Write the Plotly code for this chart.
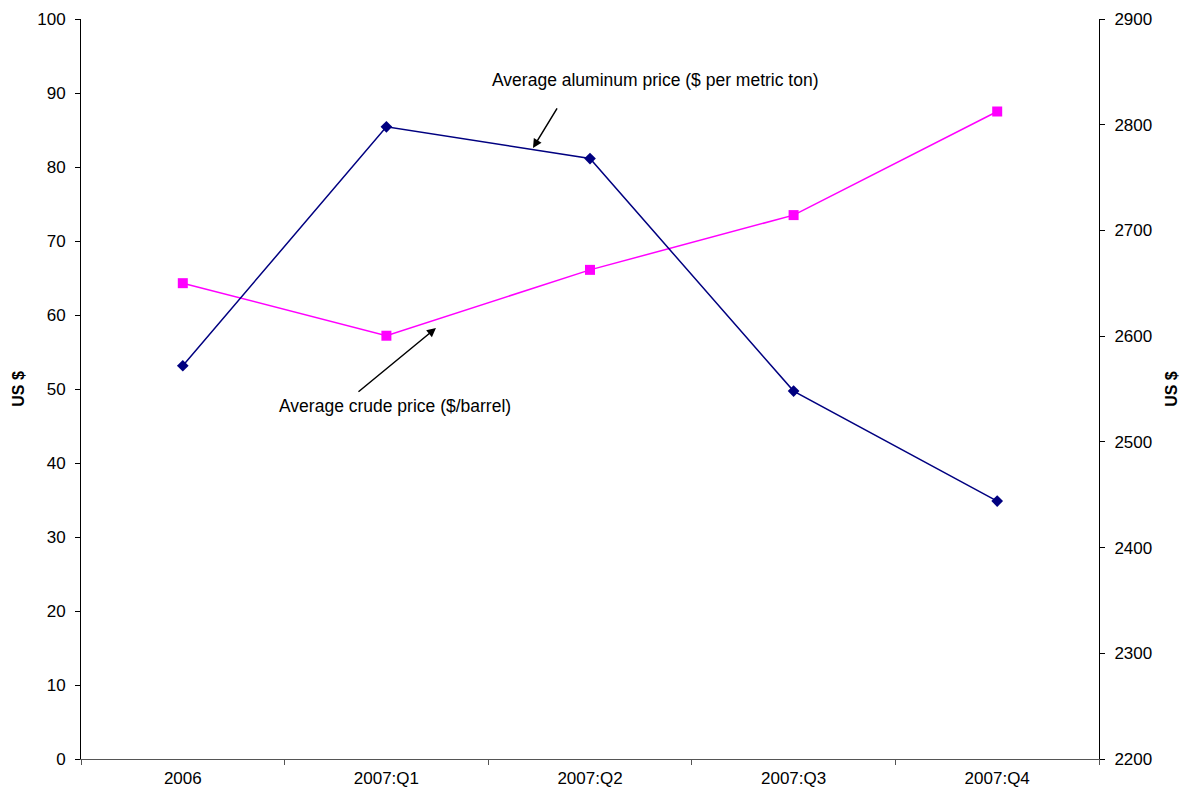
import plotly.graph_objects as go

# Quarterly commodity prices
periods = ["2006", "2007:Q1", "2007:Q2", "2007:Q3", "2007:Q4"]
crude_price = [64.3, 57.2, 66.1, 73.5, 87.5]          # $/barrel, left axis
aluminum_price = [2572, 2798, 2768, 2548, 2444]       # $ per metric ton, right axis

left_ticks = list(range(0, 101, 10))
right_ticks = list(range(2200, 2901, 100))

FONT = "Liberation Sans, Arial, sans-serif"
AXIS_COLOR = "#000000"

fig = go.Figure()

fig.add_trace(go.Scatter(
    x=periods, y=crude_price, mode="lines+markers",
    line=dict(color="#FF00FF", width=1.5),
    marker=dict(symbol="square", size=10, color="#FF00FF"),
    yaxis="y", showlegend=False,
))
fig.add_trace(go.Scatter(
    x=periods, y=aluminum_price, mode="lines+markers",
    line=dict(color="#000080", width=1.5),
    marker=dict(symbol="diamond", size=9, color="#000080"),
    yaxis="y2", showlegend=False,
))

tick_font = dict(family=FONT, size=17, color="#000000")
title_font = dict(family=FONT, size=16, color="#000000", weight="bold")

fig.update_layout(
    width=1191, height=793,
    margin=dict(l=81, r=92, t=19, b=34),
    paper_bgcolor="white", plot_bgcolor="white",
    xaxis=dict(
        type="category", categoryarray=periods, range=[-0.5, 4.5],
        showline=True, linecolor="#555555", linewidth=1,
        ticks="outside", ticklen=5, tickcolor="#555555", tickson="boundaries",
        showgrid=False, zeroline=False, tickfont=tick_font,
        ticklabelstandoff=4, automargin=False,
    ),
    # inside half of the crossing tick marks on the category axis
    xaxis2=dict(
        overlaying="x", anchor="y", side="bottom", range=[-0.5, 4.5],
        tickvals=[-0.5, 0.5, 1.5, 2.5, 3.5, 4.5],
        ticks="inside", ticklen=5, tickcolor="#555555",
        showticklabels=False, showline=False, showgrid=False, zeroline=False,
        automargin=False,
    ),
    yaxis=dict(
        range=[0, 100], tickvals=left_ticks,
        showline=True, linecolor=AXIS_COLOR, linewidth=1,
        ticks="outside", ticklen=5, tickcolor=AXIS_COLOR,
        showgrid=False, zeroline=False, tickfont=tick_font,
        ticklabelstandoff=6, automargin=False,
        title=dict(text="US $", font=title_font, standoff=8),
    ),
    yaxis2=dict(
        overlaying="y", side="right", anchor="x",
        range=[2200, 2900], tickvals=right_ticks,
        showline=True, linecolor=AXIS_COLOR, linewidth=1,
        ticks="outside", ticklen=5, tickcolor=AXIS_COLOR,
        showgrid=False, zeroline=False, tickfont=tick_font,
        ticklabelstandoff=6, automargin=False,
        title=dict(text="US $", font=title_font, standoff=14),
    ),
    # inside halves of the crossing tick marks on both value axes
    yaxis3=dict(
        overlaying="y", side="left", anchor="x", range=[0, 100],
        tickvals=left_ticks, ticks="inside", ticklen=5, tickcolor=AXIS_COLOR,
        showticklabels=False, showline=False, showgrid=False, zeroline=False,
        automargin=False,
    ),
    yaxis4=dict(
        overlaying="y", side="right", anchor="x", range=[2200, 2900],
        tickvals=right_ticks, ticks="inside", ticklen=5, tickcolor=AXIS_COLOR,
        showticklabels=False, showline=False, showgrid=False, zeroline=False,
        automargin=False,
    ),
)

label_font = dict(family=FONT, size=17.5, color="#000000")

fig.add_annotation(
    text="Average aluminum price ($ per metric ton)",
    xref="paper", yref="paper", x=0.5639, y=0.9176,
    xanchor="center", yanchor="middle",
    showarrow=False, font=label_font,
)
fig.add_annotation(
    text="", xref="paper", yref="paper", x=0.444, y=0.8257,
    ax=25, ay=-41, showarrow=True, arrowhead=2, arrowsize=1.2,
    arrowwidth=1.5, arrowcolor="#000000",
)
fig.add_annotation(
    text="Average crude price ($/barrel)",
    xref="paper", yref="paper", x=0.3084, y=0.477,
    xanchor="center", yanchor="middle",
    showarrow=False, font=label_font,
)
fig.add_annotation(
    text="", xref="paper", yref="paper", x=0.3487, y=0.5824,
    ax=-79, ay=65, showarrow=True, arrowhead=2, arrowsize=1.2,
    arrowwidth=1.5, arrowcolor="#000000",
)

fig.write_html("out.html")
